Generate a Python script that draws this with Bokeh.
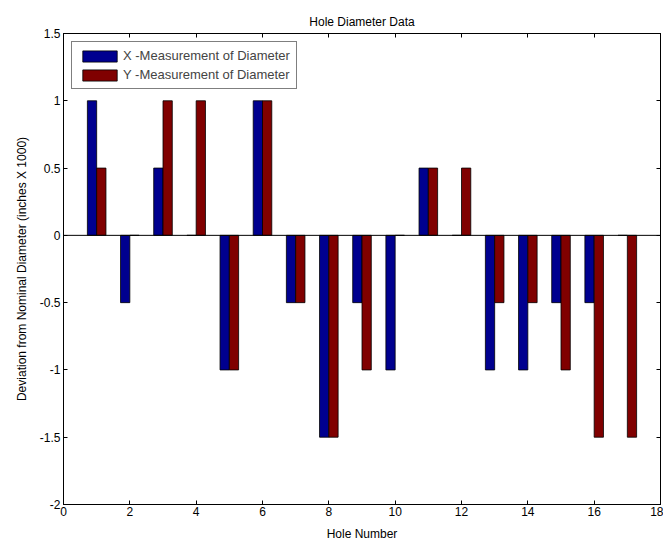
from bokeh.plotting import figure
from bokeh.models import (ColumnDataSource, FixedTicker, LinearAxis, Span, Legend, LegendItem,
                          Range1d, CustomJSTickFormatter)
from bokeh.transform import dodge
from bokeh.embed import file_html
from bokeh.resources import INLINE

holes = list(range(1, 18))
x_meas = [1, -0.5, 0.5, 0, -1, 1, -0.5, -1.5, -0.5, -1, 0.5, 0, -1, -1, -0.5, -0.5, 0]
y_meas = [0.5, 0, 1, 1, -1, 1, -0.5, -1.5, -1, 0, 0.5, 0.5, -0.5, -0.5, -1, -1.5, -1.5]
x_ticks = [0, 2, 4, 6, 8, 10, 12, 14, 16, 18]
y_ticks = [-2, -1.5, -1, -0.5, 0, 0.5, 1, 1.5]
y_tick_labels = {-2: "-2", -1.5: "-1.5", -1: "-1", -0.5: "-0.5", 0: "0", 0.5: "0.5", 1: "1", 1.5: "1.5"}

FONT = "Liberation Sans"

src = ColumnDataSource(dict(hole=holes, xm=x_meas, ym=y_meas))

p = figure(width=663, height=544, output_backend="svg", toolbar_location=None,
           x_range=Range1d(0, 18), y_range=Range1d(-2, 1.5),
           min_border_left=63, min_border_right=3, min_border_top=33, min_border_bottom=40)
p.title.text = "Hole Diameter Data"
p.title.align = "center"
p.title.text_font = FONT
p.title.text_font_size = "12px"
p.title.text_font_style = "normal"
p.title.text_color = "black"
p.title.offset = 0
p.xgrid.visible = False
p.ygrid.visible = False
p.outline_line_color = "black"
p.outline_line_width = 1

bw = 0.28
rx = p.vbar(x=dodge("hole", -bw / 2, range=p.x_range), top="xm", bottom=0, width=bw, source=src,
            fill_color="#00008F", line_color="black", line_width=0.8)
ry = p.vbar(x=dodge("hole", bw / 2, range=p.x_range), top="ym", bottom=0, width=bw, source=src,
            fill_color="#800000", line_color="black", line_width=0.8)

p.add_layout(Span(location=0, dimension="width", line_color="black", line_width=1))

for ax in (p.xaxis[0], p.yaxis[0]):
    ax.major_tick_in = 4
    ax.major_tick_out = 0
    ax.minor_tick_in = 0
    ax.minor_tick_out = 0
    ax.axis_line_color = "black"
    ax.major_label_text_font = FONT
    ax.major_label_text_font_size = "12px"
    ax.major_label_text_color = "black"
    ax.axis_label_text_font = FONT
    ax.axis_label_text_font_size = "12px"
    ax.axis_label_text_font_style = "normal"
    ax.axis_label_text_color = "black"

p.xaxis.ticker = FixedTicker(ticks=x_ticks)
p.yaxis.ticker = FixedTicker(ticks=y_ticks)
p.yaxis.major_label_overrides = y_tick_labels
p.xaxis.axis_label = "Hole Number"
p.yaxis.axis_label = "Deviation from Nominal Diameter (inches X 1000)"
p.xaxis.major_label_standoff = 2
p.yaxis.major_label_standoff = 3
p.xaxis.axis_label_standoff = 8
p.yaxis.axis_label_standoff = 8

for loc in ("above", "right"):
    ax = LinearAxis(ticker=FixedTicker(ticks=x_ticks if loc == "above" else y_ticks),
                    formatter=CustomJSTickFormatter(code="return ''"),
                    major_tick_in=4, major_tick_out=0, minor_tick_in=0, minor_tick_out=0,
                    major_label_standoff=0, axis_line_color="black")
    p.add_layout(ax, loc)

legend = Legend(items=[LegendItem(label="X -Measurement of Diameter", renderers=[rx]),
                       LegendItem(label="Y -Measurement of Diameter", renderers=[ry])],
                location="top_left")
legend.margin = 8
legend.padding = 6
legend.spacing = 4
legend.glyph_width = 43
legend.glyph_height = 14
legend.label_text_font = FONT
legend.label_text_font_size = "13px"
legend.label_standoff = 2
legend.label_height = 14
legend.border_line_color = "black"
legend.border_line_width = 1
legend.background_fill_color = "white"
legend.background_fill_alpha = 1
p.add_layout(legend)

open("out.html", "w").write(file_html(p, INLINE))
